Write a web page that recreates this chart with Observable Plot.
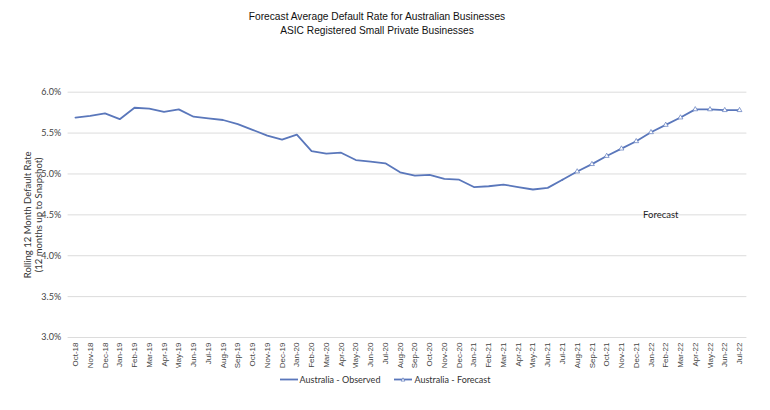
<!DOCTYPE html>
<html>
<head>
<meta charset="utf-8">
<script src="https://cdn.jsdelivr.net/npm/d3@7"></script>
<script src="https://cdn.jsdelivr.net/npm/@observablehq/plot@0.6"></script>
<style>
  html, body { margin: 0; padding: 0; background: #fff; }
  #wrap { width: 770px; height: 410px; position: relative; overflow: hidden; }
  #title {
    height: 42px; box-sizing: border-box; padding-top: 10px; padding-right: 16px;
    text-align: center; font-family: "Liberation Sans", Arial, sans-serif;
    font-size: 10.2px; line-height: 14px; color: #111;
  }
  #chart svg { display: block; }
  #legend {
    display: flex; justify-content: center; align-items: center; gap: 14px;
    margin-top: 6px; padding-left: 0px;
    font-family: Lato, "Open Sans", sans-serif; font-size: 9px; color: #333;
  }
  #legend span.item { display: inline-flex; align-items: center; gap: 2px; }
</style>
</head>
<body>
<div id="wrap">
  <div id="title">Forecast Average Default Rate for Australian Businesses<br>ASIC Registered Small Private Businesses</div>
  <div id="chart"></div>
  <div id="legend"></div>
</div>
<script>
// Month categories on the x axis
const months = [
  "Oct-18","Nov-18","Dec-18",
  "Jan-19","Feb-19","Mar-19","Apr-19","May-19","Jun-19","Jul-19","Aug-19","Sep-19","Oct-19","Nov-19","Dec-19",
  "Jan-20","Feb-20","Mar-20","Apr-20","May-20","Jun-20","Jul-20","Aug-20","Sep-20","Oct-20","Nov-20","Dec-20",
  "Jan-21","Feb-21","Mar-21","Apr-21","May-21","Jun-21","Jul-21","Aug-21","Sep-21","Oct-21","Nov-21","Dec-21",
  "Jan-22","Feb-22","Mar-22","Apr-22","May-22","Jun-22","Jul-22"
];

// Observed rolling 12-month default rate (%), Oct-18 to Jul-21
const observedMonths = months.slice(0, 34);
const observed = [
  5.69, 5.71, 5.74,
  5.67, 5.81, 5.80, 5.76, 5.79, 5.70, 5.68, 5.66, 5.61, 5.54, 5.47, 5.42,
  5.48, 5.28, 5.25, 5.26, 5.17, 5.15, 5.13, 5.02, 4.98, 4.99, 4.94, 4.93,
  4.84, 4.85, 4.87, 4.84, 4.81, 4.83, 4.93
];

// Forecast rate (%), Aug-21 to Jul-22
const forecastMonths = months.slice(34);
const forecast = [
  5.03, 5.12, 5.22, 5.31, 5.40,
  5.51, 5.60, 5.69, 5.79, 5.79, 5.78, 5.78
];

// Y axis ticks (%)
const yTicks = [3.0, 3.5, 4.0, 4.5, 5.0, 5.5, 6.0];

const seriesNames = ["Australia - Observed", "Australia - Forecast"];
const lineColor = "#5a77bb";

const obsData = observedMonths.map((m, i) => ({month: m, value: observed[i]}));
const fcData = forecastMonths.map((m, i) => ({month: m, value: forecast[i]}));
// forecast line joins on from the last observed month
const fcLine = [obsData[obsData.length - 1], ...fcData];

const fmt = d => d.toFixed(1) + "%";

const chart = Plot.plot({
  width: 770,
  height: 326,
  marginLeft: 67.6,
  marginRight: 23.6,
  marginTop: 49.7,
  marginBottom: 31,
  style: {background: "white", fontFamily: "Lato, 'Open Sans', sans-serif", color: "#444"},
  x: {type: "point", domain: months, padding: 0.5, label: null},
  y: {domain: [3, 6], label: null},
  marks: [
    Plot.ruleY(yTicks, {stroke: "#dcdcdc", strokeWidth: 1}),
    Plot.axisY(yTicks, {tickSize: 0, tickPadding: 7, fontSize: 9, tickFormat: fmt, label: null}),
    Plot.axisX({tickSize: 0, tickRotate: -90, tickPadding: 5, fontSize: 8,
      fontFamily: "'Liberation Sans', Arial, sans-serif", label: null}),
    Plot.text(["Rolling 12 Month Default Rate\n(12 months up to Snapshot)"], {
      frameAnchor: "left", textAnchor: "middle", lineAnchor: "middle",
      rotate: -90, dx: -35, fontSize: 9.5, lineHeight: 1.2, fill: "#333"
    }),
    Plot.lineY(obsData, {x: "month", y: "value", stroke: lineColor, strokeWidth: 1.8}),
    Plot.lineY(fcLine, {x: "month", y: "value", stroke: lineColor, strokeWidth: 1.8}),
    Plot.dot(fcData, {x: "month", y: "value", symbol: "triangle", r: 1.8,
      fill: "white", stroke: lineColor, strokeWidth: 0.7}),
    Plot.text(["Forecast"], {x: () => "Feb-22", y: () => 4.5, dx: -5, fontSize: 9.5, fill: "#222"})
  ]
});
document.getElementById("chart").appendChild(chart);

// Legend below the chart
const legend = document.getElementById("legend");
seriesNames.forEach((name, i) => {
  const item = document.createElement("span");
  item.className = "item";
  const marker = i === 1
    ? `<path d="M9,2.8 L10.9,6.1 L7.1,6.1 Z" fill="white" stroke="${lineColor}" stroke-width="0.7"/>`
    : "";
  item.innerHTML =
    `<svg width="18" height="9"><line x1="0" x2="18" y1="4.5" y2="4.5" stroke="${lineColor}" stroke-width="1.8"/>${marker}</svg>` +
    `<span>${name}</span>`;
  legend.appendChild(item);
});
</script>
</body>
</html>
